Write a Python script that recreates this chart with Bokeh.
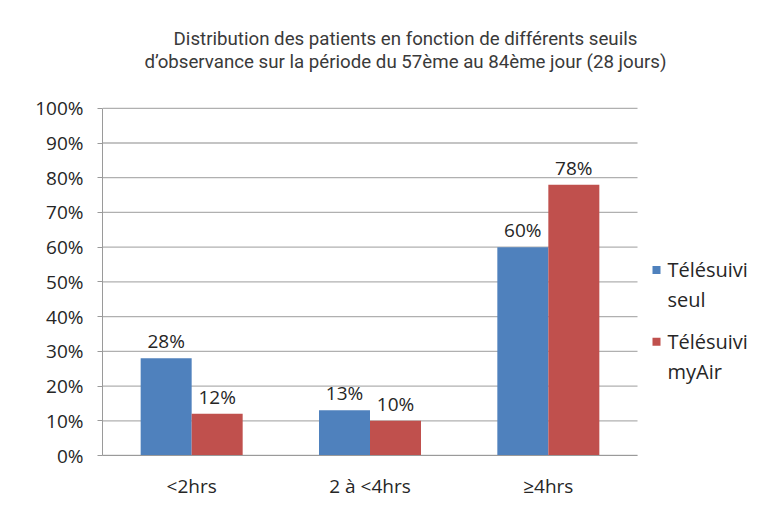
from bokeh.plotting import figure
from bokeh.models import (ColumnDataSource, FixedTicker, Range1d)
from bokeh.core.properties import value
from bokeh.embed import file_html
from bokeh.resources import INLINE

categories = ["<2hrs", "2 à <4hrs", "≥4hrs"]
series_names = [["Télésuivi", "seul"], ["Télésuivi +", "myAir"]]
seul = [28, 13, 60]
myair = [12, 10, 78]
yticks = [0, 10, 20, 30, 40, 50, 60, 70, 80, 90, 100]
title_lines = ["Distribution des patients en fonction de différents seuils",
               "d\u2019observance sur la période du 57ème au 84ème jour (28 jours)"]

BLUE = "#4F81BD"
RED = "#C0504D"
FONT = "Open Sans"
TXT = "#262626"
GRID = "#b0b0b0"

W, H = 749, 501
FL, FR, FT, FB = 102, 749, 10, 456          # frame edges in page pixels
N = len(categories)
PX_PER_CAT = (637 - FL) / N                  # plot body spans 102..637
PX_PER_PCT = (FB - 108) / 100.0              # 0%..100% spans 456..108

def dx(px):
    return (px - FL) / PX_PER_CAT

def dy(py):
    return (FB - py) / PX_PER_PCT

xc = [i + 0.5 for i in range(N)]
bw = 0.286

src = ColumnDataSource(dict(
    x1=[x - bw / 2 for x in xc],
    x2=[x + bw / 2 for x in xc],
    seul=seul,
    myair=myair,
    seul_lbl=[f"{v}%" for v in seul],
    myair_lbl=[f"{v}%" for v in myair],
))

p = figure(x_range=Range1d(0, dx(FR)), y_range=Range1d(0, dy(FT)),
           width=W, height=H, output_backend="svg", toolbar_location=None,
           min_border_left=FL, min_border_right=W - FR, min_border_top=FT,
           min_border_bottom=H - FB)

# horizontal gridlines limited to the plot body
p.segment(x0=[0] * len(yticks), x1=[N] * len(yticks), y0=yticks, y1=yticks,
          line_color=GRID, line_width=1.3)

p.vbar(x="x1", top="seul", width=bw, source=src, color=BLUE, line_color=None)
p.vbar(x="x2", top="myair", width=bw, source=src, color=RED, line_color=None)

for xcol, ycol, tcol in (("x1", "seul", "seul_lbl"), ("x2", "myair", "myair_lbl")):
    p.text(x=xcol, y=ycol, text=tcol, source=src,
           text_align="center", text_baseline="alphabetic", y_offset=-17,
           text_font=value(FONT), text_font_size="19px", text_color=TXT)

# axes
p.yaxis.ticker = FixedTicker(ticks=yticks)
p.yaxis.major_label_overrides = {t: f"{t}%" for t in yticks}
p.yaxis.bounds = (0, 100)
p.yaxis.major_label_text_font = FONT
p.yaxis.major_label_text_font_size = "19px"
p.yaxis.major_label_text_color = TXT
p.yaxis.axis_line_color = "#9a9a9a"
p.yaxis.major_tick_line_color = "#9a9a9a"
p.yaxis.major_tick_out = 5
p.yaxis.major_tick_in = 0
p.yaxis.minor_tick_line_color = None
p.yaxis.major_label_standoff = 14

p.xaxis.ticker = FixedTicker(ticks=xc)
p.xaxis.major_label_overrides = {x: c for x, c in zip(xc, categories)}
p.xaxis.bounds = (0, N)
p.xaxis.major_label_text_font = FONT
p.xaxis.major_label_text_font_size = "19px"
p.xaxis.major_label_text_color = TXT
p.xaxis.axis_line_color = "#9a9a9a"
p.xaxis.major_tick_line_color = None
p.xaxis.minor_tick_line_color = None
p.xaxis.major_label_standoff = 11

p.xgrid.grid_line_color = None
p.ygrid.grid_line_color = None
p.outline_line_color = None

# title, two lines
p.text(x=[dx(405)] * 2, y=[dy(39), dy(62)], text=title_lines,
       text_align="center", text_baseline="alphabetic",
       text_font=value("Roboto"), text_font_size="18.7px", text_color="#3a3a3a")

# legend
colors = [BLUE, RED]
item_py = [270, 342]
p.scatter(x=[dx(656)] * 2, y=[dy(v) for v in item_py], marker="square", size=8,
          color=colors, line_color=None)
for k, lines in enumerate(series_names):
    p.text(x=[dx(667)] * 2, y=[dy(item_py[k]), dy(item_py[k] + 30)], text=lines,
           text_align="left", text_baseline="middle",
           text_font=value(FONT), text_font_size="20px", text_color=TXT)

open("out.html", "w").write(file_html(p, INLINE))
